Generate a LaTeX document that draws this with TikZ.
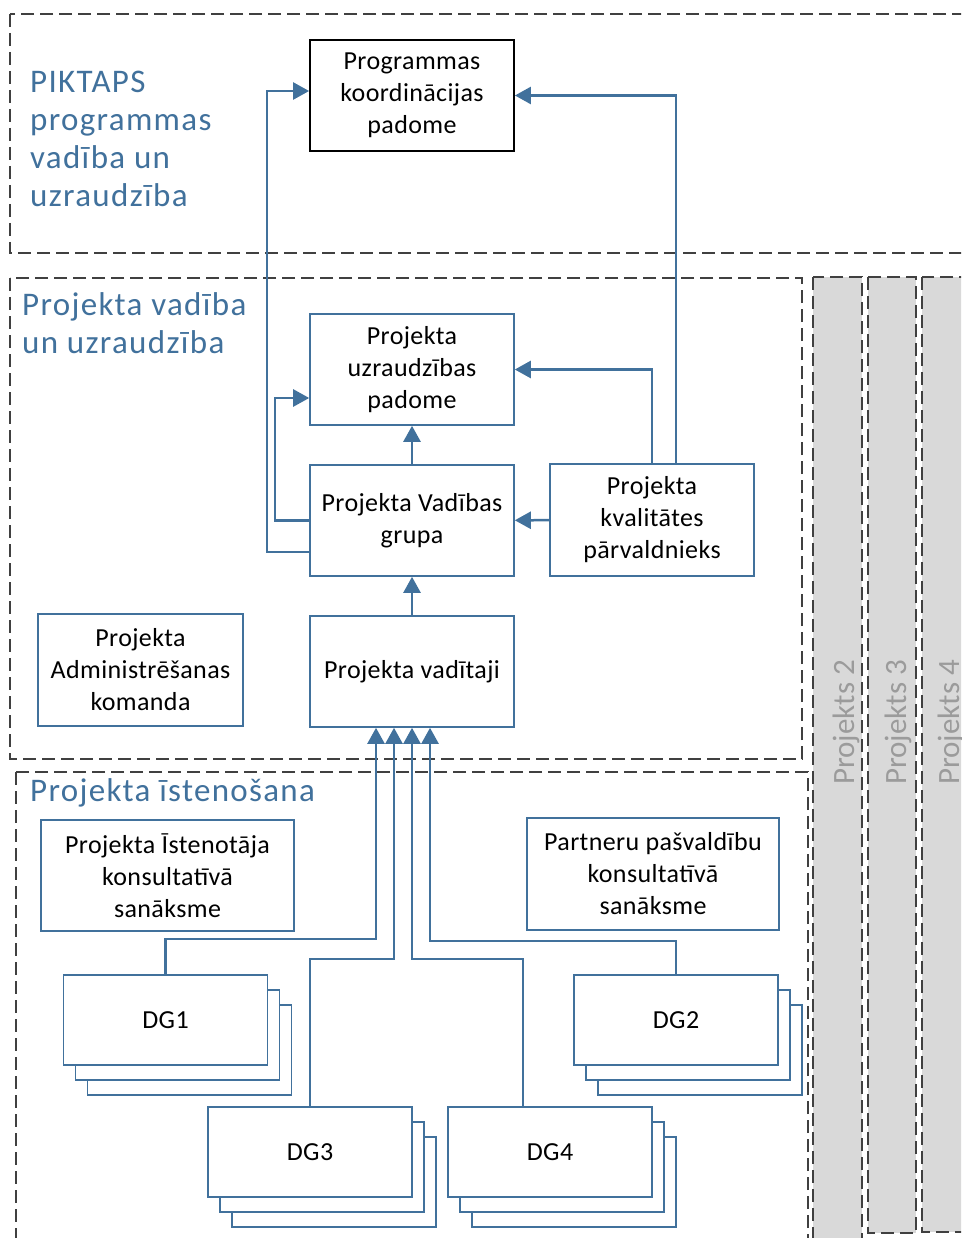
\documentclass[tikz,border=0pt]{standalone}
\usepackage{fontspec}
\setmainfont{Carlito}
\newfontfamily\boxfont[LetterSpace=1.5]{Carlito}
\newfontfamily\titlefont[LetterSpace=4]{Carlito}
\usetikzlibrary{arrows.meta,shadows}
\definecolor{vblue}{RGB}{65,113,156}
\definecolor{dgray}{RGB}{64,64,64}
\definecolor{colfill}{RGB}{217,217,217}
\definecolor{lgray}{RGB}{155,155,155}

\begin{document}
\begin{tikzpicture}[x=1pt,y=-1pt]

% Definitions
\tikzstyle{Unit} = [rectangle, minimum width=204pt, minimum height=111pt, text centered, align=center, draw=vblue, line width=1.6pt, fill=white, font=\boxfont\fontsize{26}{32}\selectfont]
\tikzstyle{Board} = [Unit, draw=black, line width=1.8pt]
\tikzstyle{Group} = [Unit, minimum height=90pt, copy shadow={shadow xshift=24pt, shadow yshift=-30pt, draw=vblue, fill=white, line width=1.6pt}, copy shadow={shadow xshift=12pt, shadow yshift=-15pt, draw=vblue, fill=white, line width=1.6pt}]
\tikzstyle{Area} = [dash pattern=on 13pt off 6pt, draw=dgray, line width=1.8pt]
\tikzstyle{Title} = [anchor=north west, align=left, inner sep=0pt, text=vblue, font=\titlefont\fontsize{33}{38}\selectfont]
\tikzstyle{Other} = [anchor=base west, rotate=90, inner sep=0pt, text=lgray, font=\fontsize{31}{37}\selectfont]
\tikzstyle{arrow} = [line width=2.5pt, draw=vblue, ->, >={Triangle[length=16pt,width=17pt]}]

\useasboundingbox (0,0) rectangle (961,1238);
\clip (0,0) rectangle (961,1238);

% areas
\draw [Area, fill=colfill] (813,277) rectangle (862,1250);
\draw [Area, fill=colfill] (868,277) rectangle (916,1233);
\draw [Area, fill=colfill] (922,277) rectangle (980,1232);
\draw [Area] (10,14) rectangle (980,253);
\draw [Area] (10,278) rectangle (802,759);
\draw [Area] (16,772) rectangle (808,1250);

\node (PiktapsTitle) [Title] at (30,71) {PIKTAPS\\programmas\\vadība un\\uzraudzība};
\node (VadibaTitle) [Title] at (22,292) {Projekta vadība\\un uzraudzība};
\node (IstenTitle) [Title] at (30,778) {Projekta īstenošana};
\node (P2) [Other] at (854,785) {Projekts 2};
\node (P3) [Other] at (906,785) {Projekts 3};
\node (P4) [Other] at (959,785) {Projekts 4};

% boxes
\node (Prog) [Board] at (412,95.5) {Programmas\\koordinācijas\\padome};
\node (PUP) [Unit] at (412,369.5) {Projekta\\uzraudzības\\padome};
\node (PVG) [Unit, below of=PUP, node distance=151pt] {Projekta Vadības\\grupa};
\node (PV) [Unit, below of=PVG, node distance=151pt] {Projekta vadītaji};
\node (PKP) [Unit, minimum height=112pt] at (652,520) {Projekta\\kvalitātes\\pārvaldnieks};
\node (PAK) [Unit, minimum width=205pt, minimum height=112pt] at (140.5,670) {Projekta\\Administrēšanas\\komanda};
\node (PIK) [Unit, minimum width=253pt] at (167.5,875.5) {Projekta Īstenotāja\\konsultatīvā\\sanāksme};
\node (PPK) [Unit, minimum width=252pt, minimum height=112pt] at (653,874) {Partneru pašvaldību\\konsultatīvā\\sanāksme};
\node (DG1) [Group] at (165.5,1020) {DG1};
\node (DG2) [Group] at (676,1020) {DG2};
\node (DG3) [Group] at (310,1152) {DG3};
\node (DG4) [Group] at (550,1152) {DG4};

% connectors
\draw [arrow] ([yshift=-31.5pt]PVG.west) -- ++(-42,0) |- ([yshift=4.5pt]Prog.west);
\draw [arrow] (PVG.west) -- ++(-34,0) |- ([yshift=-28.5pt]PUP.west);
\draw [arrow] (PVG) -- (PUP);
\draw [arrow] (PV) -- (PVG);
\draw [arrow] (PKP) -- (PVG);
\draw [arrow] (PKP.north) |- (PUP.east);
\draw [arrow] ([xshift=24pt]PKP.north) |- (Prog.east);

\draw [arrow] (DG1.north) -- ++(0,-35) -| ([xshift=-36pt]PV.south);
\draw [arrow] (DG3.north) -- ++(0,-147) -| ([xshift=-18pt]PV.south);
\draw [arrow] ([xshift=-27pt]DG4.north) -- ++(0,-147) -| (PV.south);
\draw [arrow] (DG2.north) -- ++(0,-33) -| ([xshift=18pt]PV.south);

\end{tikzpicture}
\end{document}
